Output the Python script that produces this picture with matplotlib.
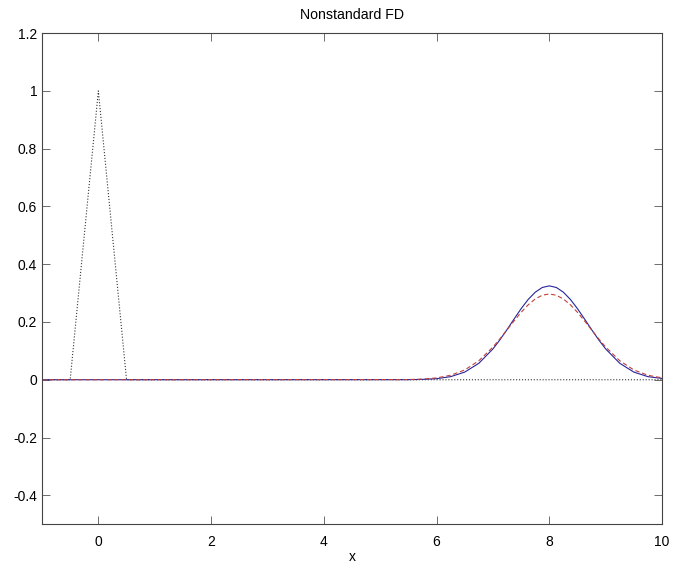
"""Nonstandard FD: initial pulse and advected solution"""

import matplotlib
matplotlib.use("Agg")
import matplotlib.pyplot as plt

# initial condition (dotted triangle)
x_init = [-1.0, -0.5, 0.0, 0.5, 10.0]
u_init = [0.0, 0.0, 1.0, 0.0, 0.0]

# numerical solutions
x_sol = [-1.0, 5.5, 5.75, 6.0, 6.25, 6.5, 6.75, 7.0, 7.125, 7.25, 7.375,
         7.5, 7.625, 7.75, 7.875, 8.0, 8.125, 8.25, 8.375, 8.5, 8.625,
         8.75, 8.875, 9.0, 9.25, 9.5, 9.75, 10.0]
u_exact = [0.0, 0.0003, 0.0012, 0.0038, 0.0107, 0.0265, 0.057, 0.1067,
           0.1385, 0.1737, 0.2103, 0.246, 0.2779, 0.303, 0.3194, 0.325,
           0.3194, 0.303, 0.2779, 0.246, 0.2103, 0.1737, 0.1385, 0.1067,
           0.057, 0.0265, 0.0107, 0.0045]
u_nsfd = [0.0, 0.0007, 0.0022, 0.0063, 0.0155, 0.0339, 0.0658, 0.1132,
          0.1419, 0.1727, 0.2037, 0.2334, 0.2593, 0.2796, 0.2926, 0.297,
          0.2926, 0.2796, 0.2593, 0.2334, 0.2037, 0.1727, 0.1419, 0.1132,
          0.0658, 0.0339, 0.0155, 0.0065]

x_ticks = [0, 2, 4, 6, 8, 10]
y_ticks = [-0.4, -0.2, 0, 0.2, 0.4, 0.6, 0.8, 1, 1.2]
y_labels = ["-0.4", "-0.2", "0", "0.2", "0.4", "0.6", "0.8", "1", "1.2"]

plt.rcParams["font.family"] = ["Liberation Sans", "DejaVu Sans"]
plt.rcParams["font.size"] = 10

fig = plt.figure(figsize=(6.73, 5.71), dpi=100)
ax = fig.add_axes([0.0624, 0.082, 0.9213, 0.860])

ax.plot(x_init, u_init, color="#333333", linestyle=":", linewidth=0.8)
ax.plot(x_sol, u_exact, color="#25259a", linestyle="-", linewidth=0.8)
ax.plot(x_sol, u_nsfd, color="#c0403a", linestyle="--", linewidth=0.8,
        dashes=(4, 2.5))

ax.set_xlim(-1, 10)
ax.set_ylim(-0.5, 1.2)
ax.set_xticks(x_ticks)
ax.set_yticks(y_ticks)
ax.set_yticklabels(y_labels)
ax.tick_params(direction="in", length=6, width=0.6, color="#555555",
               top=True, right=True)
ax.tick_params(axis="x", pad=7.5)
ax.tick_params(axis="y", pad=3.5)
for s in ax.spines.values():
    s.set_linewidth(0.8)
    s.set_color("#444444")

ax.set_title("Nonstandard FD", fontsize=10.2, pad=10.5)
ax.set_xlabel("x", fontsize=10, labelpad=1)

fig.savefig("out.png", dpi=100)
